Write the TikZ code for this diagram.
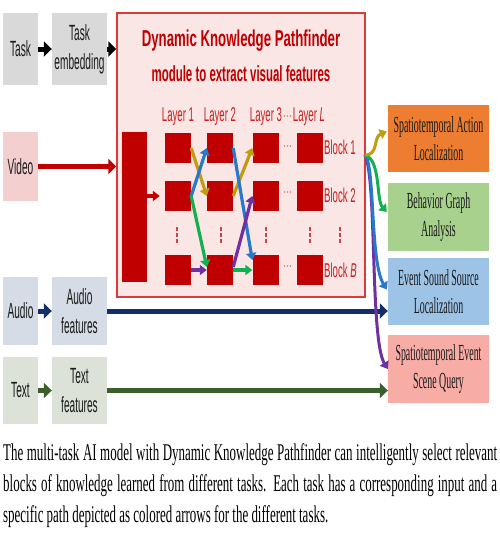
\documentclass[tikz,border=0pt]{standalone}
\usepackage{fontspec}
\setmainfont{Liberation Serif}
\newfontfamily\lblfont[FakeStretch=0.46]{Liberation Sans}
\newfontfamily\lyrfont[FakeStretch=0.48]{Liberation Sans}
\newfontfamily\ttlfontA[FakeStretch=0.575]{Liberation Sans}
\newfontfamily\ttlfontB[FakeStretch=0.52]{Liberation Sans}
\newfontfamily\capfont[FakeStretch=0.54]{Liberation Serif}
\newfontfamily\outfont[FakeStretch=0.43]{Liberation Serif}
\usetikzlibrary{arrows.meta,calc}
\definecolor{grayA}{HTML}{D9D9D9}
\definecolor{pinkA}{HTML}{F4CFCF}
\definecolor{audioA}{HTML}{D6DCE5}
\definecolor{textA}{HTML}{DCE2D8}
\definecolor{dkpfill}{HTML}{FBE6E6}
\definecolor{dkpline}{HTML}{D93A3A}
\definecolor{bred}{HTML}{C00000}
\definecolor{lred}{HTML}{C82020}
\definecolor{gold}{HTML}{C39B0E}
\definecolor{ablue}{HTML}{2878CC}
\definecolor{agreen}{HTML}{12B04E}
\definecolor{apurple}{HTML}{7030A0}
\definecolor{navy}{HTML}{132E6B}
\definecolor{dgreen}{HTML}{3A5F2A}
\definecolor{orangeB}{HTML}{ED7D31}
\definecolor{greenB}{HTML}{A9D18E}
\definecolor{blueB}{HTML}{9DC3E6}
\definecolor{pinkB}{HTML}{F7ADA5}
\definecolor{txt}{HTML}{1A1A1A}
\begin{document}
\begin{tikzpicture}[x=1pt,y=-1pt,
  box/.style={inner sep=0pt,align=center,text=txt,font=\lblfont\fontsize{22}{29}\selectfont},
  obox/.style={inner sep=0pt,align=center,text=txt,minimum width=101pt,font=\outfont\fontsize{23}{28}\selectfont},
  blk/.style={fill=bred,inner sep=0pt,minimum width=26pt,minimum height=30pt},
  lyr/.style={text=lred,inner sep=0pt,font=\lyrfont\fontsize{20}{22}\selectfont},
  hdotc/.style={fill=lred!60},
  vdotc/.style={fill=lred!85},
  bigarr/.style={line width=5pt,-{Triangle[length=8pt,width=15pt]}},
  arr/.style={line width=3.2pt,-{Triangle[length=7pt,width=10pt]}},
  oarr/.style={line width=3pt,-{Triangle[length=7pt,width=10pt]}},
  captxt/.style={inner sep=0pt,anchor=base west,text=black,font=\capfont\fontsize{24}{30}\selectfont}]
\useasboundingbox (0,0) rectangle (500,550);
\fill[white] (0,0) rectangle (500,550);

% left input boxes
\node[box,fill=grayA,minimum width=35pt,minimum height=72pt] (task) at (20.5,49) {Task};
\node[box,fill=grayA,minimum width=55pt,minimum height=72pt] (temb) at (79.5,49) {Task\\embedding};
\node[box,fill=pinkA,minimum width=35pt,minimum height=69pt] (video) at (20.5,166.5) {Video};
\node[box,fill=audioA,minimum width=35pt,minimum height=68pt] (audio) at (20.5,311) {Audio};
\node[box,fill=audioA,minimum width=55pt,minimum height=68pt] (af) at (79.5,311) {Audio\\features};
\node[box,fill=textA,minimum width=35pt,minimum height=67pt] (text) at (20.5,390.5) {Text};
\node[box,fill=textA,minimum width=55pt,minimum height=67pt] (tf) at (79.5,390.5) {Text\\features};

% DKP module
\node[fill=dkpfill,draw=dkpline,line width=1.5pt,inner sep=0pt,minimum width=248pt,minimum height=284pt] (dkp) at (241,155) {};
\node[inner sep=0pt,anchor=base,text=bred,font=\ttlfontA\bfseries\fontsize{23}{26}\selectfont] (t1) at (241,46) {Dynamic Knowledge Pathfinder};
\node[inner sep=0pt,anchor=base,text=bred,font=\ttlfontB\bfseries\fontsize{22}{26}\selectfont] (t2) at (241,81) {module to extract visual features};

\node[lyr,anchor=base] (ly1) at (178,121) {Layer 1};
\node[lyr,anchor=base] (ly2) at (220,121) {Layer 2};
\node[lyr,anchor=base] (ly3) at (266,121) {Layer 3};
\node[lyr,anchor=base] (lyL) at (309,121) {Layer \textit{L}};

\node[fill=bred,inner sep=0pt,minimum width=25pt,minimum height=150pt] (bar) at (134.5,207) {};

\node[blk] (l1b1) at (178,148) {};
\node[blk] (l1b2) at (178,196) {};
\node[blk] (l1bB) at (178,270) {};
\node[blk] (l2b1) at (220,148) {};
\node[blk] (l2b2) at (220,196) {};
\node[blk] (l2bB) at (220,270) {};
\node[blk] (l3b1) at (265.5,148) {};
\node[blk] (l3b2) at (265.5,196) {};
\node[blk] (l3bB) at (265.5,270) {};
\node[blk] (lLb1) at (310,148) {};
\node[blk] (lLb2) at (310,196) {};
\node[blk] (lLbB) at (310,270) {};

% horizontal dots
\foreach \yy in {116,146,192,266}
  \foreach \xx in {284.5,287.5,290.5}
    \fill[hdotc] (\xx,\yy) circle (0.8pt);
% vertical dots
\foreach \xx in {177,221,266,310,340}
  \foreach \yy in {229,235,241}
    \fill[vdotc] (\xx-0.9,\yy-1.8) rectangle (\xx+0.9,\yy+1.8);

\node[lyr,anchor=west] (bk1) at (324,147) {Block 1};
\node[lyr,anchor=west] (bk2) at (324,195) {Block 2};
\node[lyr,anchor=west] (bkB) at (324,270) {Block \textit{B}};

% output boxes
\node[obox,fill=orangeB,minimum height=67pt] (sta) at (438.5,138.5) {Spatiotemporal Action\\Localization};
\node[obox,fill=greenB,minimum height=68pt] (bga) at (438.5,217) {Behavior Graph\\Analysis};
\node[obox,fill=blueB,minimum height=67pt] (esl) at (438.5,291.5) {Event Sound Source\\Localization};
\node[obox,fill=pinkB,minimum height=68pt] (seq) at (438.5,369) {Spatiotemporal Event\\Scene Query};

% input arrows
\draw[bigarr,black] (task.east) -- (temb.west);
\draw[bigarr,black] (temb.east) -- (temb.east -| dkp.west);
\draw[bigarr,bred] (video.east) -- (video.east -| dkp.west);
\draw[bigarr,navy] (audio.east) -- (af.west);
\draw[bigarr,navy] (af.east) -- (af.east -| esl.west);
\draw[bigarr,dgreen] (text.east) -- (tf.west);
\draw[bigarr,dgreen] (tf.east) -- (tf.east -| seq.west);

\draw[arr,bred,shorten >=5pt] (bar.east |- l1b2.west) -- (l1b2.west);

% paths inside
\draw[arr,gold] (l1b1.east) -- (l2b2.west);
\draw[arr,agreen] (l1b2.east) -- ($(l2bB.west)+(0,-3)$);
\draw[arr,ablue] (l1b2.east) -- (l2b1.west);
\draw[arr,apurple] (l1bB.east) -- (l2bB.west);
\draw[arr,gold] (l2b2.east) -- (l3b1.west);
\draw[arr,ablue] (l2b1.east) -- ($(l3bB.west)+(0,-10)$);
\draw[arr,apurple] ($(l2bB.east)+(0,-3)$) -- (l3b2.west);
\draw[arr,agreen] (l2bB.east) -- (l3bB.west);

% output paths
\coordinate (o) at (365,155);
\draw[oarr,apurple] (o) .. controls (377,180) and (370,340) .. (seq.west);
\draw[oarr,ablue] (o) .. controls (375,165) and (370,262) .. ($(esl.west)+(-1,-2)$);
\draw[oarr,agreen] (o) .. controls (381,160) and (376,200) .. ($(bga.west)+(-1,-5)$);
\draw[oarr,gold] (o) .. controls (379,155) and (373,137) .. ($(sta.west)+(-1,-7)$);

% caption
\node[captxt] (c1) at (3,460) {\makebox[494pt][s]{The multi-task AI model with Dynamic Knowledge Pathfinder can intelligently select relevant}};
\node[captxt] (c2) at (3,491) {\makebox[494pt][s]{blocks of knowledge learned from different tasks. Each task has a corresponding input and a}};
\node[captxt] (c3) at (3,522) {specific path depicted as colored arrows for the different tasks.};
\end{tikzpicture}
\end{document}
